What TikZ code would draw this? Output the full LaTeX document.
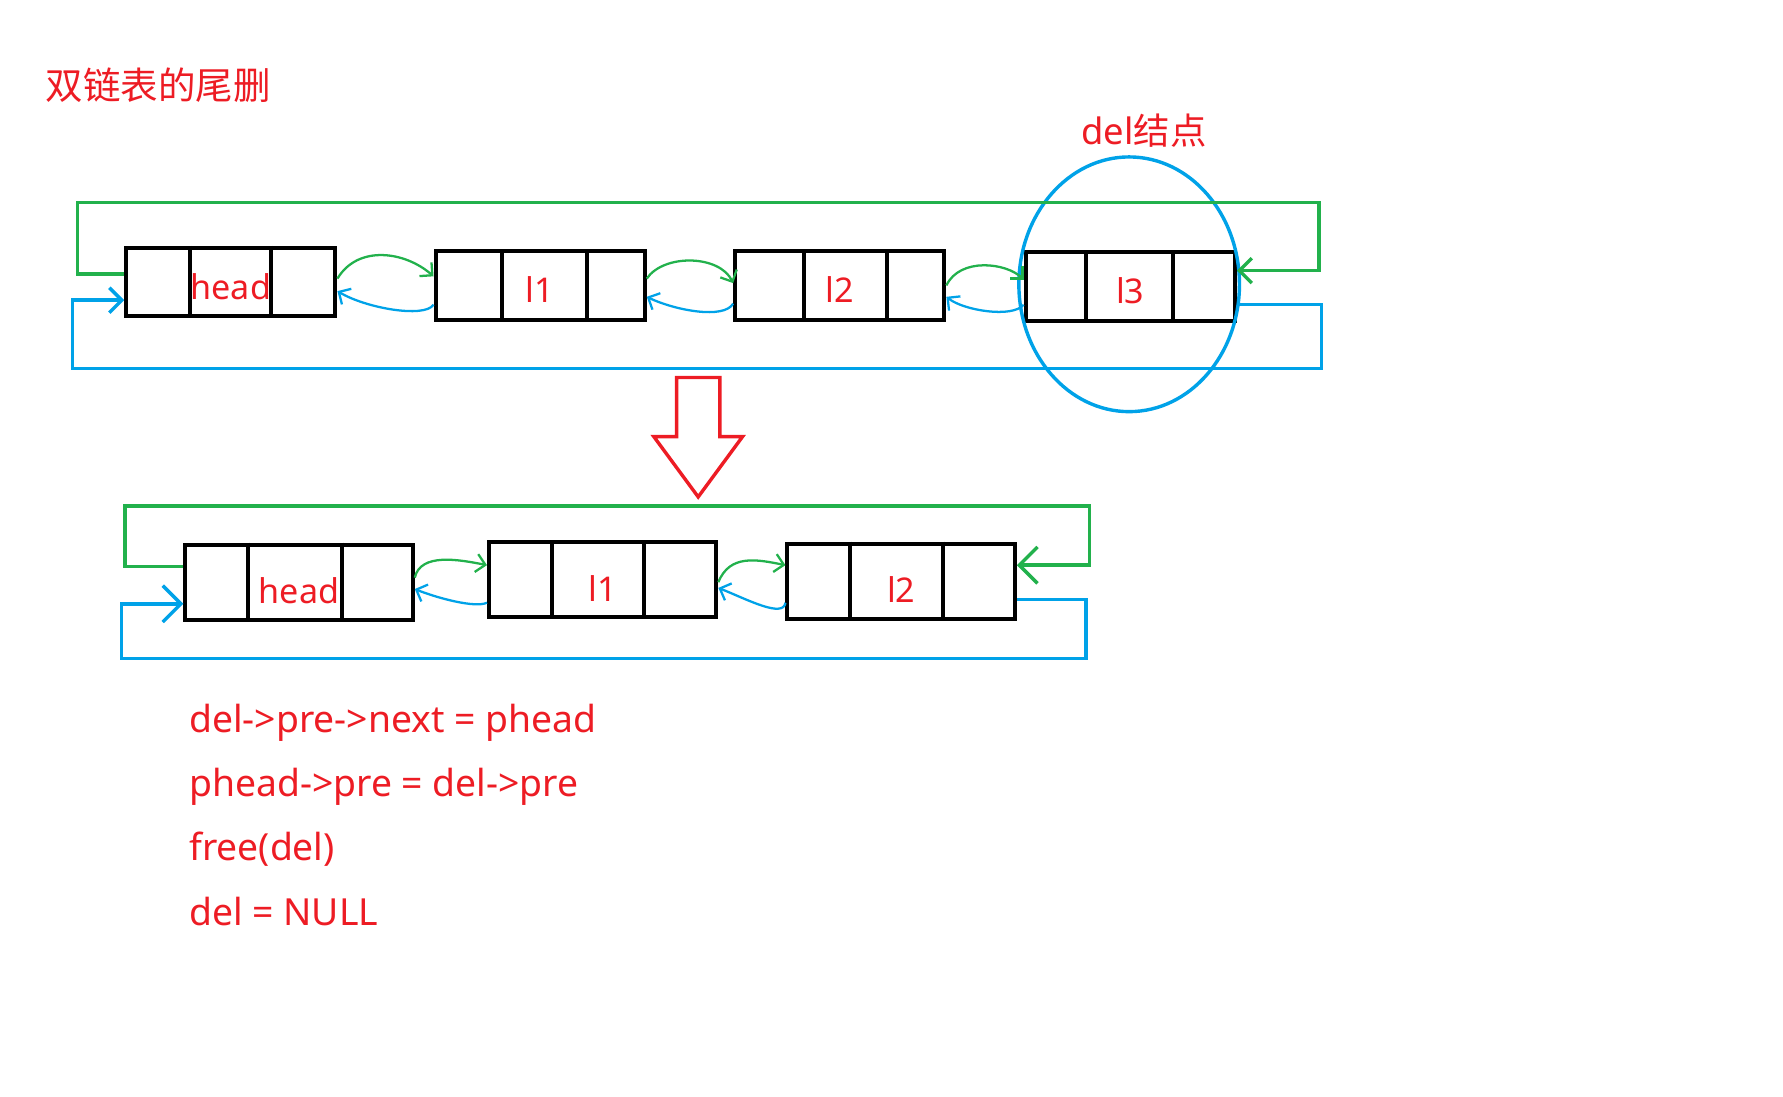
\documentclass[tikz,border=0pt]{standalone}
\usepackage{fontspec}
\setmainfont{Noto Sans}
\newfontfamily\cjk{Noto Sans CJK SC}
\usetikzlibrary{arrows.meta,shapes.geometric,calc}
\definecolor{pred}{RGB}{237,28,36}
\definecolor{pgreen}{RGB}{34,177,76}
\definecolor{pblue}{RGB}{0,162,232}
\begin{document}
\begin{tikzpicture}[x=.5pt,y=-.5pt,
every node/.style={font=\fontsize{15}{18}\selectfont,text=pred},
cellbox/.style={draw=black,line width=1.75pt,minimum width=92pt,minimum height=30pt,inner sep=0pt,text height=15pt,text depth=0pt},
cellboxb/.style={cellbox,minimum width=100pt,minimum height=33pt,text height=19pt},
gline/.style={draw=pgreen,line width=1.5pt},
bline/.style={draw=pblue,line width=1.5pt},
gcurve/.style={draw=pgreen,line width=1pt},
bcurve/.style={draw=pblue,line width=1pt},
bigtip/.style={-{Straight Barb[length=5.5pt,width=11pt]}},
bigtipb/.style={-{Straight Barb[length=8pt,width=16pt]}},
smalltip/.style={-{Straight Barb[length=4pt,width=8pt]}},
code/.style={font=\fontsize{16.4}{19}\selectfont,anchor=base west,inner sep=0pt}]
\useasboundingbox (0,0) rectangle (1568,964);
\node[font=\cjk\fontsize{16.5}{20}\selectfont] (title) at (139,75) {双链表的尾删};
% list before deleting
\node[cellbox] (h) at (203,248) {head};
\node[cellbox] (l1) at (475,251) {l1};
\node[cellbox] (l2) at (738.5,251) {l2};
\node[cellbox] (l3) at (994,252) {l3};
\node[draw=pblue,line width=1.5pt,ellipse,minimum width=97pt,minimum height=112pt,inner sep=0pt] (del) at (993,250) {};
\node[font=\fontsize{16}{19}\selectfont] (dellbl) at (1006,115) {del{\cjk 结点}};
% list after deleting
\node[cellboxb] (hb) at (263,512) {head};
\node[cellboxb] (l1b) at (530,510) {l1};
\node[cellboxb] (l2b) at (792.5,511) {l2};
\foreach \n/\a/\b in {h/.31/.69,l1/.32/.72,l2/.33/.72,l3/.29/.70,hb/.28/.685,l1b/.28/.68,l2b/.28/.68}
  \draw[line width=1.75pt] ($(\n.north west)!\a!(\n.north east)$) -- ($(\n.south west)!\a!(\n.south east)$)
    ($(\n.north west)!\b!(\n.north east)$) -- ($(\n.south west)!\b!(\n.south east)$);
\coordinate (gtl) at (68,178);
\coordinate (gtr) at (1160,178);
\coordinate (btl) at (64,324);
\coordinate (btr) at (1162,324);
\coordinate (gbl) at (110,445);
\coordinate (gbr) at (958,445);
\coordinate (bbl) at (107,579);
\coordinate (bbr) at (955,579);
\draw[gline,bigtip] ([yshift=3.5pt]h.west) -| (gtl) -- (gtr) |- ([yshift=7pt]l3.east);
\draw[bline,bigtip] ([yshift=-8pt]l3.east) -| (btr) -- (btl) |- ([yshift=-8pt]h.west);
\draw[gline,bigtipb] ([yshift=7pt]hb.west) -| (gbl) -- (gbr) |- ([yshift=7pt]l2b.east);
\draw[bline,bigtipb] ([yshift=-8pt]l2b.east) -| (bbr) -- (bbl) |- ([yshift=-9.5pt]hb.west);
% next / pre links
\draw[gcurve,smalltip] ([yshift=1.5pt]h.east) .. controls +(18,-30) and +(-25,-22) .. ([yshift=4pt]l1.west);
\draw[bcurve,smalltip] ([yshift=-8.5pt]l1.west) .. controls +(-8,12) and +(25,15) .. ([yshift=-4pt]h.east);
\draw[gcurve,smalltip] ([yshift=3pt]l1.east) .. controls +(15,-22) and +(-12,-25) .. ([yshift=1pt]l2.west);
\draw[bcurve,smalltip] ([yshift=-8pt]l2.west) .. controls +(-8,14) and +(25,12) .. ([yshift=-5pt]l1.east);
\draw[gcurve,smalltip] (l2.east) .. controls +(12,-25) and +(-15,-15) .. ([yshift=3pt]l3.west);
\draw[bcurve,smalltip] ([yshift=-8pt]l3.west) .. controls +(-10,12) and +(15,12) .. ([yshift=-5pt]l2.east);
\draw[gcurve,smalltip] ([yshift=2pt]hb.east) .. controls +(5,-22) and +(-25,-5) .. ([yshift=6.5pt]l1b.west);
\draw[bcurve,smalltip] ([yshift=-10pt]l1b.west) .. controls +(-10,5) and +(20,8) .. ([yshift=-3pt]hb.east);
\draw[gcurve,smalltip] ([yshift=-1pt]l1b.east) .. controls +(10,-25) and +(-25,-5) .. ([yshift=7pt]l2b.west);
\draw[bcurve,smalltip] ([yshift=-9.5pt]l2b.west) .. controls +(-2,14) and +(25,10) .. ([yshift=-3.5pt]l1b.east);
% hollow arrow down
\draw[draw=pred,line width=1.5pt] (595,332) -- (633,332) -- (633,384) -- (653,384) -- (614,437) -- (575,384) -- (595,384) -- cycle;
\node[code] (c1) at (166,644) {del->pre->next = phead};
\node[code] (c2) at (166,700.5) {phead->pre = del->pre};
\node[code] (c3) at (166,757) {free(del)};
\node[code] (c4) at (166,813.5) {del = NULL};
\end{tikzpicture}
\end{document}
